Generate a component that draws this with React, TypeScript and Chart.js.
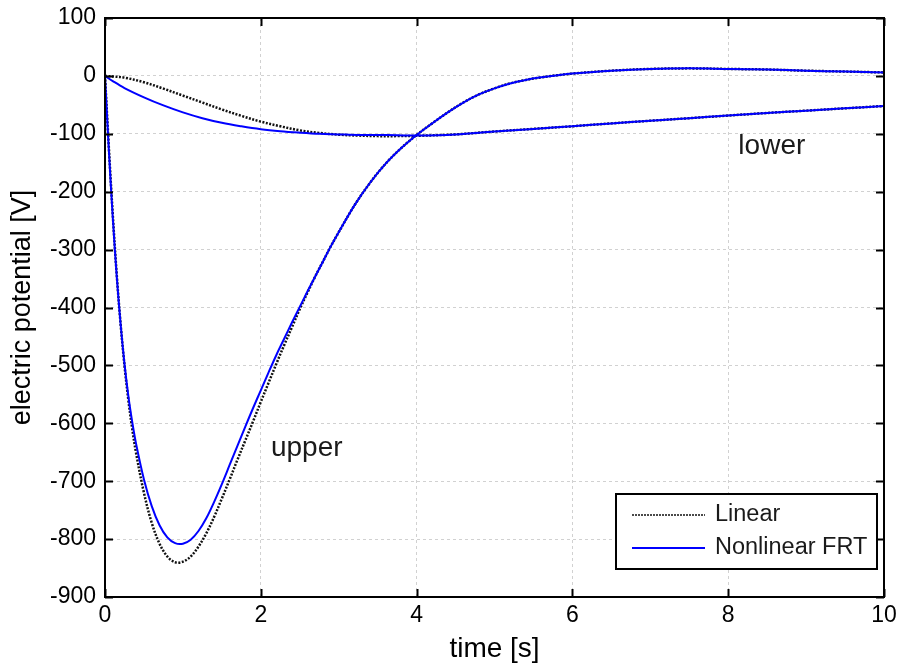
import React, { useEffect, useRef } from "react";
import { Chart, registerables } from "chart.js";

Chart.register(...registerables);

// Time samples (s)
const timeUpper = [
  0, 0.05, 0.1, 0.15, 0.2, 0.25, 0.3, 0.35, 0.4, 0.5, 0.6, 0.7, 0.8, 0.9, 1.0,
  1.1, 1.2, 1.3, 1.4, 1.5, 1.6, 1.7, 1.8, 1.9, 2.0, 2.1, 2.2, 2.3, 2.4, 2.5, 2.6, 2.7, 2.8, 2.9, 3.0,
  3.2, 3.4, 3.6, 3.8, 4.0, 4.2, 4.4, 4.6, 4.8, 5.0, 5.2, 5.4, 5.6, 5.8, 6.0,
  6.5, 7.0, 7.5, 8.0, 8.5, 9.0, 9.5, 10.0,
];
const timeLower = [
  0, 0.1, 0.25, 0.5, 0.75, 1.0, 1.25, 1.5, 1.75, 2.0, 2.25, 2.5, 2.75, 3.0, 3.25, 3.5,
  3.75, 4.0, 4.5, 5.0, 5.5, 6.0, 6.5, 7.0, 7.5, 8.0, 8.5, 9.0, 9.5, 10.0,
];

// Electric potential (V), upper electrode
const linearUpper = [
  0, -125, -240, -342, -428, -500, -560, -610, -652, -720, -772, -808, -830, -840, -839,
  -830, -813, -790, -762, -730, -697, -663, -630, -597, -563, -530, -497, -465, -434, -403, -374, -346, -320, -294, -270,
  -224, -185, -152, -125, -102, -82, -63, -46, -32, -21.5, -13, -7, -2.5, 1, 4,
  9, 12, 13, 12, 11, 9, 7.5, 6,
];
const nonlinearUpper = [
  0, -130, -245, -345, -428, -497, -553, -598, -636, -697, -743, -776, -797, -807, -808,
  -801, -786, -764, -736, -705, -672, -639, -606, -574, -543, -512, -482, -454, -426, -399, -372, -346, -320, -294, -270,
  -224, -185, -152, -125, -102, -82, -63, -46, -32, -21.5, -13, -7, -2.5, 1, 4,
  9, 12, 13, 12, 11, 9, 7.5, 6,
];

// Electric potential (V), lower electrode
const linearLower = [
  0, -1, -3, -11, -22, -34, -46, -58, -69, -79, -87, -94, -98.5, -101.5, -103, -104,
  -104, -103.5, -101, -96, -91.5, -87, -82, -77.5, -73, -68.5, -64, -60, -56, -52,
];
const nonlinearLower = [
  0, -9, -21, -37, -51, -63, -73, -81, -87, -92, -95.5, -98, -100, -101, -102, -102,
  -102.5, -103, -101, -96, -91.5, -87, -82, -77.5, -73, -68.5, -64, -60, -56, -52,
];

const xTicks = [0, 2, 4, 6, 8, 10];
const yTicks = [100, 0, -100, -200, -300, -400, -500, -600, -700, -800, -900];

const seriesNames = ["Linear", "Nonlinear FRT"];
const curveLabels = [
  { text: "upper", t: 2.59, v: -643 },
  { text: "lower", t: 8.56, v: -121 },
];

const FONT = "'Liberation Sans', Arial, Helvetica, sans-serif";
const BLUE = "#0000ff";
const DOT = "#111111";

const toPoints = (xs: number[], ys: number[]) => xs.map((x, i) => ({ x, y: ys[i] }));

// Box, inward ticks on all four sides, curve labels and the legend
const decorPlugin = {
  id: "decor",
  afterDatasetsDraw(chart: any) {
    const { ctx, chartArea: a, scales } = chart;
    const x = scales.x;
    const y = scales.y;
    ctx.save();

    // curve labels
    ctx.fillStyle = "#1a1a1a";
    ctx.font = `28px ${FONT}`;
    ctx.textAlign = "center";
    ctx.textBaseline = "middle";
    curveLabels.forEach((c) => {
      ctx.fillText(c.text, x.getPixelForValue(c.t), y.getPixelForValue(c.v));
    });

    // frame
    ctx.strokeStyle = "#000";
    ctx.lineWidth = 2;
    ctx.setLineDash([]);
    ctx.strokeRect(a.left, a.top, a.right - a.left, a.bottom - a.top);

    // inward ticks
    const L = 8;
    ctx.beginPath();
    xTicks.forEach((v) => {
      const px = Math.round(x.getPixelForValue(v)) + 0.5;
      ctx.moveTo(px, a.bottom);
      ctx.lineTo(px, a.bottom - L);
      ctx.moveTo(px, a.top);
      ctx.lineTo(px, a.top + L);
    });
    yTicks.forEach((v) => {
      const py = Math.round(y.getPixelForValue(v)) + 0.5;
      ctx.moveTo(a.left, py);
      ctx.lineTo(a.left + L, py);
      ctx.moveTo(a.right, py);
      ctx.lineTo(a.right - L, py);
    });
    ctx.stroke();

    // legend
    const bw = 261;
    const bh = 75;
    const bx = a.right - 268;
    const by = a.bottom - 103;
    ctx.fillStyle = "#fff";
    ctx.fillRect(bx, by, bw, bh);
    ctx.strokeStyle = "#000";
    ctx.lineWidth = 2;
    ctx.strokeRect(bx, by, bw, bh);

    const rows = [by + 21, by + 54];
    // dotted sample
    ctx.beginPath();
    ctx.strokeStyle = DOT;
    ctx.lineWidth = 1.5;
    ctx.setLineDash([2, 1]);
    ctx.moveTo(bx + 16, rows[0]);
    ctx.lineTo(bx + 89, rows[0]);
    ctx.stroke();
    // solid sample
    ctx.beginPath();
    ctx.strokeStyle = BLUE;
    ctx.lineWidth = 2;
    ctx.setLineDash([]);
    ctx.moveTo(bx + 16, rows[1]);
    ctx.lineTo(bx + 89, rows[1]);
    ctx.stroke();

    ctx.fillStyle = "#1a1a1a";
    ctx.font = `23.5px ${FONT}`;
    ctx.textAlign = "left";
    ctx.textBaseline = "middle";
    ctx.fillText(seriesNames[0], bx + 99, rows[0]);
    ctx.fillText(seriesNames[1], bx + 99, rows[1]);

    ctx.restore();
  },
};

export default function App() {
  const canvasRef = useRef<HTMLCanvasElement | null>(null);

  useEffect(() => {
    const canvas = canvasRef.current;
    if (!canvas) return;

    const linearStyle = {
      borderColor: DOT,
      borderWidth: 2.5,
      borderDash: [2, 1.5],
      pointRadius: 0,
      fill: false,
      tension: 0.35,
      order: 2,
    };
    const nonlinearStyle = {
      borderColor: BLUE,
      borderWidth: 2,
      pointRadius: 0,
      fill: false,
      tension: 0.35,
      order: 1,
    };

    const chart = new Chart(canvas, {
      type: "line",
      data: {
        datasets: [
          { label: seriesNames[0], data: toPoints(timeUpper, linearUpper), ...linearStyle },
          { label: seriesNames[0], data: toPoints(timeLower, linearLower), ...linearStyle },
          { label: seriesNames[1], data: toPoints(timeUpper, nonlinearUpper), ...nonlinearStyle },
          { label: seriesNames[1], data: toPoints(timeLower, nonlinearLower), ...nonlinearStyle },
        ],
      },
      options: {
        responsive: false,
        animation: false,
        devicePixelRatio: 1,
        layout: { padding: { top: 18, right: 17, left: 0, bottom: 0 } },
        plugins: {
          legend: { display: false },
          tooltip: { enabled: false },
        },
        scales: {
          x: {
            type: "linear",
            min: 0,
            max: 10,
            afterFit: (s: any) => {
              s.height = 66;
              s.paddingLeft = 0;
              s.paddingRight = 0;
            },
            afterBuildTicks: (s: any) => {
              s.ticks = xTicks.map((v) => ({ value: v }));
            },
            ticks: {
              color: "#000",
              font: { family: FONT, size: 23 },
              padding: 5,
              maxRotation: 0,
              callback: (v: any) => String(v),
            },
            grid: {
              color: "rgba(0,0,0,0.18)",
              lineWidth: 1,
              drawTicks: false,
            },
            border: { display: false, dash: [3, 3] },
            title: {
              display: true,
              text: "time [s]",
              color: "#000",
              font: { family: FONT, size: 28, lineHeight: 1 },
              padding: { top: 0, bottom: 0 },
            },
          },
          y: {
            type: "linear",
            min: -900,
            max: 100,
            afterFit: (s: any) => {
              s.width = 105;
              s.paddingTop = 0;
              s.paddingBottom = 0;
            },
            afterBuildTicks: (s: any) => {
              s.ticks = yTicks.slice().reverse().map((v) => ({ value: v }));
            },
            ticks: {
              color: "#000",
              font: { family: FONT, size: 23 },
              padding: 9,
              callback: (v: any) => String(v),
            },
            grid: {
              color: "rgba(0,0,0,0.18)",
              lineWidth: 1,
              drawTicks: false,
            },
            border: { display: false, dash: [3, 3] },
            title: {
              display: true,
              text: "electric potential [V]",
              color: "#000",
              font: { family: FONT, size: 27, lineHeight: 1 },
              padding: { top: 9, bottom: 0 },
            },
          },
        },
      },
      plugins: [decorPlugin],
    });

    return () => chart.destroy();
  }, []);

  return (
    <div style={{ position: "fixed", left: 0, top: 0, width: 901, height: 663, background: "#fff" }}>
      <canvas ref={canvasRef} width={901} height={663} style={{ display: "block", width: 901, height: 663 }} />
    </div>
  );
}
